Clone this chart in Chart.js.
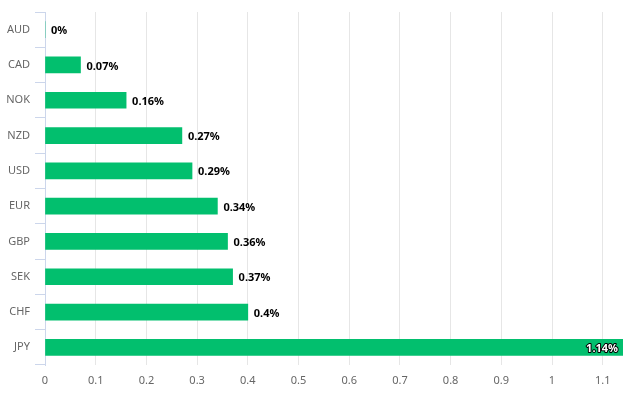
<!DOCTYPE html>
<html>
<head>
<meta charset="utf-8">
<script src="https://cdn.jsdelivr.net/npm/chart.js@4"></script>
<style>
  html, body { margin: 0; padding: 0; background: #fff; }
  #wrap { width: 632px; height: 393px; }
</style>
</head>
<body>
<div id="wrap"><canvas id="fxChart"></canvas></div>
<script>
  // currency performance data
  const currencies = ['AUD', 'CAD', 'NOK', 'NZD', 'USD', 'EUR', 'GBP', 'SEK', 'CHF', 'JPY'];
  const changes = [0, 0.07, 0.16, 0.27, 0.29, 0.34, 0.36, 0.37, 0.4, 1.14];
  const xMax = 1.14;

  // draws the "x%" label at the end of every bar
  const barLabels = {
    id: 'barLabels',
    afterDatasetsDraw(chart) {
      const ctx = chart.ctx;
      const area = chart.chartArea;
      const meta = chart.getDatasetMeta(0);
      ctx.save();
      ctx.font = 'bold 11px "Noto Sans"';
      ctx.textBaseline = 'middle';
      meta.data.forEach((bar, i) => {
        const txt = changes[i] + '%';
        const w = ctx.measureText(txt).width;
        if (bar.x + 5 + w < area.right) {
          ctx.textAlign = 'left';
          ctx.fillStyle = '#000';
          ctx.fillText(txt, bar.x + 6, bar.y + 1.5);
        } else {
          ctx.textAlign = 'right';
          ctx.lineWidth = 2;
          ctx.strokeStyle = '#000';
          ctx.lineJoin = 'round';
          ctx.strokeText(txt, bar.x - 5, bar.y + 1.5);
          ctx.fillStyle = '#fff';
          ctx.fillText(txt, bar.x - 5, bar.y + 1.5);
        }
      });
      ctx.restore();
    }
  };

  new Chart(document.getElementById('fxChart'), {
    type: 'bar',
    data: {
      labels: currencies,
      datasets: [{
        data: changes,
        backgroundColor: '#02bf6e',
        barThickness: 16
      }]
    },
    options: {
      indexAxis: 'y',
      responsive: true,
      maintainAspectRatio: false,
      animation: false,
      layout: { padding: { top: 12, right: 9, left: 0, bottom: 0 } },
      plugins: {
        legend: { display: false },
        tooltip: { enabled: false }
      },
      scales: {
        x: {
          min: 0,
          max: xMax,
          afterFit: (s) => { s.height = 28; },
          grid: { color: '#e6e6e6', tickLength: 0 },
          border: { display: false },
          ticks: {
            stepSize: 0.1,
            includeBounds: false,
            padding: 9,
            color: '#666',
            font: { family: '"Noto Sans"', size: 11 },
            callback: (v) => String(Math.round(v * 10) / 10)
          }
        },
        y: {
          afterFit: (s) => { s.width = 45; },
          grid: { offset: true, drawOnChartArea: false, tickLength: 10, color: '#ccd6eb' },
          border: { color: '#ccd6eb' },
          ticks: {
            padding: 5,
            color: '#666',
            font: { family: '"Noto Sans"', size: 11 }
          }
        }
      }
    },
    plugins: [barLabels]
  });
</script>
</body>
</html>
